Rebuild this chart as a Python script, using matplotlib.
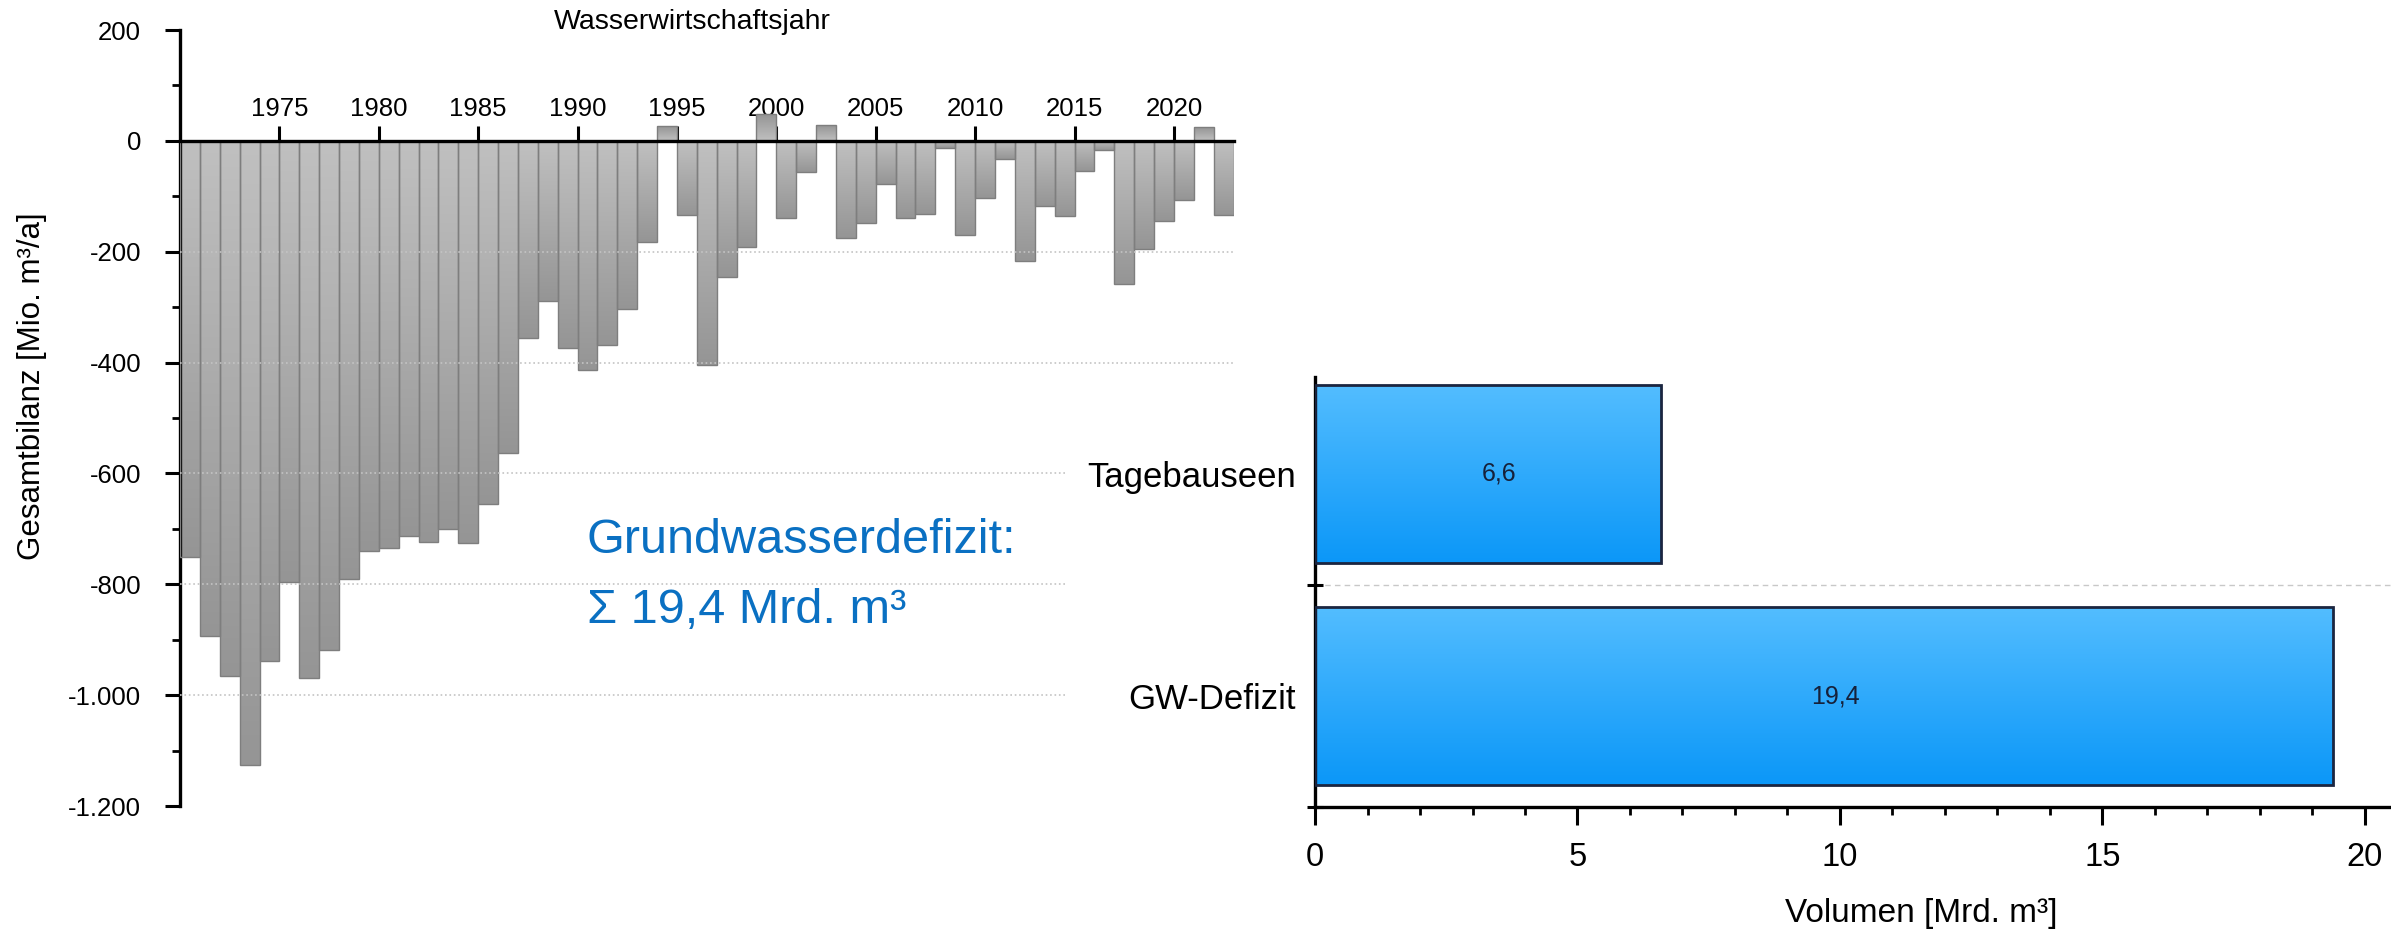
import numpy as np
import matplotlib
matplotlib.use("Agg")
import matplotlib.pyplot as plt
from matplotlib.colors import LinearSegmentedColormap
from matplotlib.ticker import MultipleLocator, FuncFormatter

plt.rcParams['font.family'] = ['Liberation Sans', 'DejaVu Sans']

# Gesamtbilanz je Wasserwirtschaftsjahr [Mio. m3/a]
jahre = list(range(1971, 2024))
bilanz = [-751, -893, -965, -1126, -938, -796, -969, -918, -791, -739,
          -734, -712, -723, -700, -726, -655, -563, -355, -289, -374,
          -414, -369, -303, -182, 27, -133, -404, -245, -191, 48,
          -139, -57, 28, -175, -149, -78, -140, -132, -13, -169,
          -103, -33, -216, -117, -136, -55, -17, -259, -195, -144,
          -107, 25, -134]
jahr_ticks = list(range(1975, 2021, 5))

# Volumen [Mrd. m3]
kategorien = ['GW-Defizit', 'Tagebauseen']
volumen = [19.4, 6.6]

text_zeile1 = 'Grundwasserdefizit:'
text_zeile2 = 'Σ 19,4 Mrd. m³'

grau = LinearSegmentedColormap.from_list('grau', ['#c0c0c0', '#959595'])
blau = LinearSegmentedColormap.from_list('blau', ['#0b97f8', '#53bdff'])
blau_text = '#0a70c2'


def gradient(ax, bars, cmap):
    grad = np.linspace(0, 1, 256).reshape(-1, 1)
    for b in bars:
        x0, y0 = b.get_x(), b.get_y()
        w, h = b.get_width(), b.get_height()
        ax.imshow(grad, cmap=cmap, origin='lower', aspect='auto',
                  extent=(x0, x0 + w, y0, y0 + h), zorder=2)


fig = plt.figure(figsize=(23.91, 9.3), dpi=100)

# ---- linkes Diagramm ----
ax1 = fig.add_axes([0.0753, 0.1333, 0.4406, 0.8344])
x = np.array(jahre) - 0.5
bars1 = ax1.bar(x, bilanz, width=1.0, facecolor='none', edgecolor='#7e7e7e',
                linewidth=1, zorder=3)
gradient(ax1, bars1, grau)
ax1.set_xlim(1970, 2023)
ax1.set_ylim(-1200, 200)

for s in ['right', 'bottom']:
    ax1.spines[s].set_visible(False)
ax1.spines['top'].set_position(('data', 0))
ax1.spines['top'].set_zorder(5)
for s in ['top', 'left']:
    ax1.spines[s].set_linewidth(2.4)
ax1.xaxis.tick_top()
ax1.set_xticks(jahr_ticks)
ax1.tick_params(axis='x', direction='out', length=11, width=2.2,
                labelsize=18.5, pad=3)
ax1.yaxis.set_major_locator(MultipleLocator(200))
ax1.yaxis.set_minor_locator(MultipleLocator(100))
ax1.yaxis.set_major_formatter(FuncFormatter(lambda v, p: f'{v:,.0f}'.replace(',', '.')))
ax1.tick_params(axis='y', which='major', length=11, width=2.2, labelsize=18.5, pad=17)
ax1.tick_params(axis='y', which='minor', length=6, width=2)

for yv in [-200, -400]:
    ax1.axhline(yv, color='#c4c4c4', ls=':', lw=1.2, zorder=4)
for yv in [-600, -800, -1000]:
    ax1.axhline(yv, xmax=0.841, color='#c4c4c4', ls=':', lw=1.2, zorder=4)

ax1.set_ylabel('Gesamtbilanz [Mio. m³/a]', fontsize=22.5, va='center')
ax1.yaxis.set_label_coords(-0.1405, 0.541)
ax1.text(0.486, 1.0103, 'Wasserwirtschaftsjahr', transform=ax1.transAxes,
         ha='center', va='center', fontsize=20.5)
ax1.text(0.3863, 0.326, text_zeile1, transform=ax1.transAxes,
         ha='left', va='baseline', fontsize=35, color=blau_text)
ax1.text(0.3863, 0.2358, text_zeile2, transform=ax1.transAxes,
         ha='left', va='baseline', fontsize=35, color=blau_text)

# ---- rechtes Diagramm ----
ax2 = fig.add_axes([0.55, 0.1319, 0.45, 0.4630])
pos = np.arange(len(kategorien))
bars2 = ax2.barh(pos, volumen, height=0.8, facecolor='none',
                 edgecolor='#1b2540', linewidth=2, zorder=3)
gradient(ax2, bars2, blau)
ax2.set_xlim(0, 20.5)
ax2.set_ylim(-0.5, 1.437)

for s in ['right', 'top']:
    ax2.spines[s].set_visible(False)
for s in ['bottom', 'left']:
    ax2.spines[s].set_linewidth(2.4)
ax2.set_yticks(pos)
ax2.set_yticklabels(kategorien)
ax2.set_yticks([-0.5, 0.5], minor=True)
ax2.tick_params(axis='y', which='major', length=0, labelsize=25, pad=14)
ax2.tick_params(axis='y', which='minor', direction='inout', length=11, width=2.2)
ax2.xaxis.set_major_locator(MultipleLocator(5))
ax2.xaxis.set_minor_locator(MultipleLocator(1))
ax2.tick_params(axis='x', which='major', length=13, width=2.2, labelsize=23.5, pad=12)
ax2.tick_params(axis='x', which='minor', length=6, width=2)
ax2.axhline(0.5, color='#c8c8c8', ls=(0, (4, 3)), lw=1, zorder=1)

for p, v in zip(pos, volumen):
    ax2.annotate(f'{v:.1f}'.replace('.', ','), (v / 2, p), xytext=(11, 0),
                 textcoords='offset pixels', ha='center', va='center',
                 fontsize=18, color='#16213a', zorder=4)

ax2.set_xlabel('Volumen [Mrd. m³]', fontsize=24, va='center')
ax2.xaxis.set_label_coords(0.563, -0.246)

fig.savefig('out.png', dpi=100)
